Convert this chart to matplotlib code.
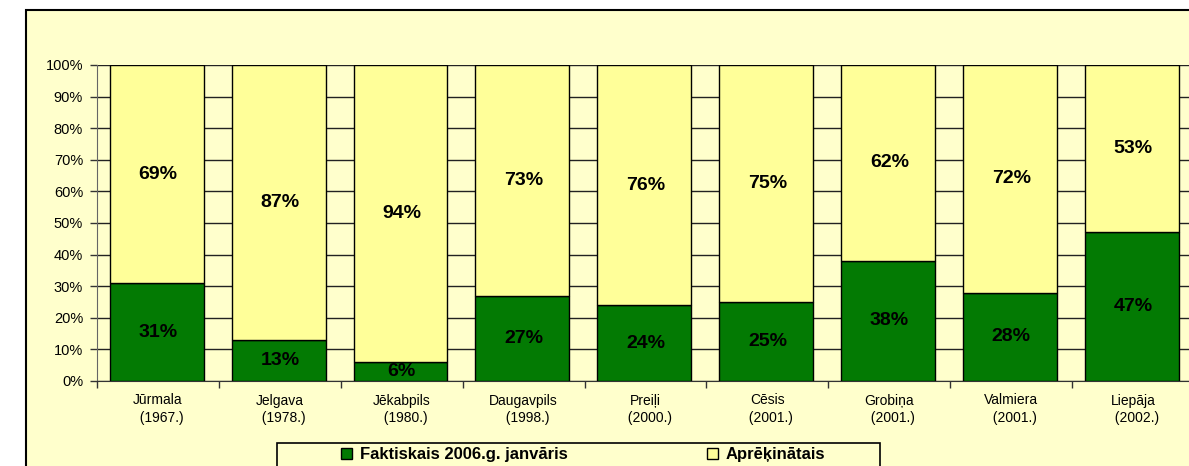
import numpy as np
import matplotlib.pyplot as plt
from matplotlib.patches import Rectangle

# Data
cities = ['Jūrmala', 'Jelgava', 'Jēkabpils', 'Daugavpils', 'Preiļi',
          'Cēsis', 'Grobiņa', 'Valmiera', 'Liepāja']
years = ['1967.', '1978.', '1980.', '1998.', '2000.',
         '2001.', '2001.', '2001.', '2002.']
actual = [31, 13, 6, 27, 24, 25, 38, 28, 47]
calculated = [69, 87, 94, 73, 76, 75, 62, 72, 53]

plt.rcParams['font.family'] = ['Liberation Sans', 'DejaVu Sans']

bg = '#FFFFCC'
green = '#037A03'
yellow = '#FFFF99'

fig = plt.figure(figsize=(11.89, 4.66), dpi=100, facecolor='white')

# outer chart frame (clipped on right/bottom like the original)
fig.patches.append(Rectangle((26 / 1189, -0.02), 1.05, 1 - 10 / 466 + 0.02,
                             transform=fig.transFigure, facecolor=bg,
                             edgecolor='black', linewidth=1.5, zorder=-1))

ax = fig.add_axes([97 / 1189, 1 - 381 / 466, (1194 - 97) / 1189, (381 - 65) / 466])
ax.set_facecolor(bg)

x = np.arange(len(cities))
w = 0.77
ax.bar(x - 0.01, actual, width=w, color=green, edgecolor='black', linewidth=1, zorder=3,
       label='Faktiskais 2006.g. janvāris')
ax.bar(x - 0.01, calculated, width=w, bottom=actual, color=yellow, edgecolor='black',
       linewidth=1, zorder=3, label='Aprēķinātais')

for i in range(len(cities)):
    ax.text(x[i], actual[i] / 2, f'{actual[i]}%', ha='center', va='center',
            fontsize=14, fontweight='bold', zorder=4)
    ax.text(x[i], actual[i] + calculated[i] / 2, f'{calculated[i]}%', ha='center',
            va='center', fontsize=14, fontweight='bold', zorder=4)

ax.set_xlim(-0.5, len(cities) - 0.5)
ax.set_ylim(0, 100)
ax.set_yticks(np.arange(0, 101, 10))
ax.set_yticklabels([f'{v}%' for v in range(0, 101, 10)], fontsize=10.5)
ax.yaxis.grid(True, color='#222222', linewidth=1, zorder=0)
ax.set_axisbelow(True)

ax.set_xticks(x)
ax.set_xticklabels([f'{c}\n  ({y})' for c, y in zip(cities, years)], fontsize=10,
                   linespacing=1.35)
ax.tick_params(axis='x', length=0, pad=9)
ax.set_xticks(np.arange(-0.5, len(cities), 1), minor=True)
ax.tick_params(axis='x', which='minor', length=5, width=1, color='#333333')
ax.tick_params(axis='y', length=5, width=1, color='#333333', pad=5)

for s in ['top', 'right']:
    ax.spines[s].set_visible(False)
ax.spines['left'].set_color('#666666')
ax.spines['bottom'].set_color('#333333')

# legend box
fig.patches.append(Rectangle((277 / 1189, -0.05), (880 - 277) / 1189, (466 - 443) / 466 + 0.05,
                             transform=fig.transFigure, facecolor=bg,
                             edgecolor='black', linewidth=1.2, zorder=1))
leg = fig.legend(loc='center left', bbox_to_anchor=(333 / 1189, 1 - 455 / 466), ncol=2,
                 frameon=False, prop={'weight': 'bold', 'size': 12},
                 handlelength=0.65, handleheight=0.65, handletextpad=0.45,
                 columnspacing=8.4, borderpad=0)

fig.savefig('out.png', dpi=100, facecolor='white')
